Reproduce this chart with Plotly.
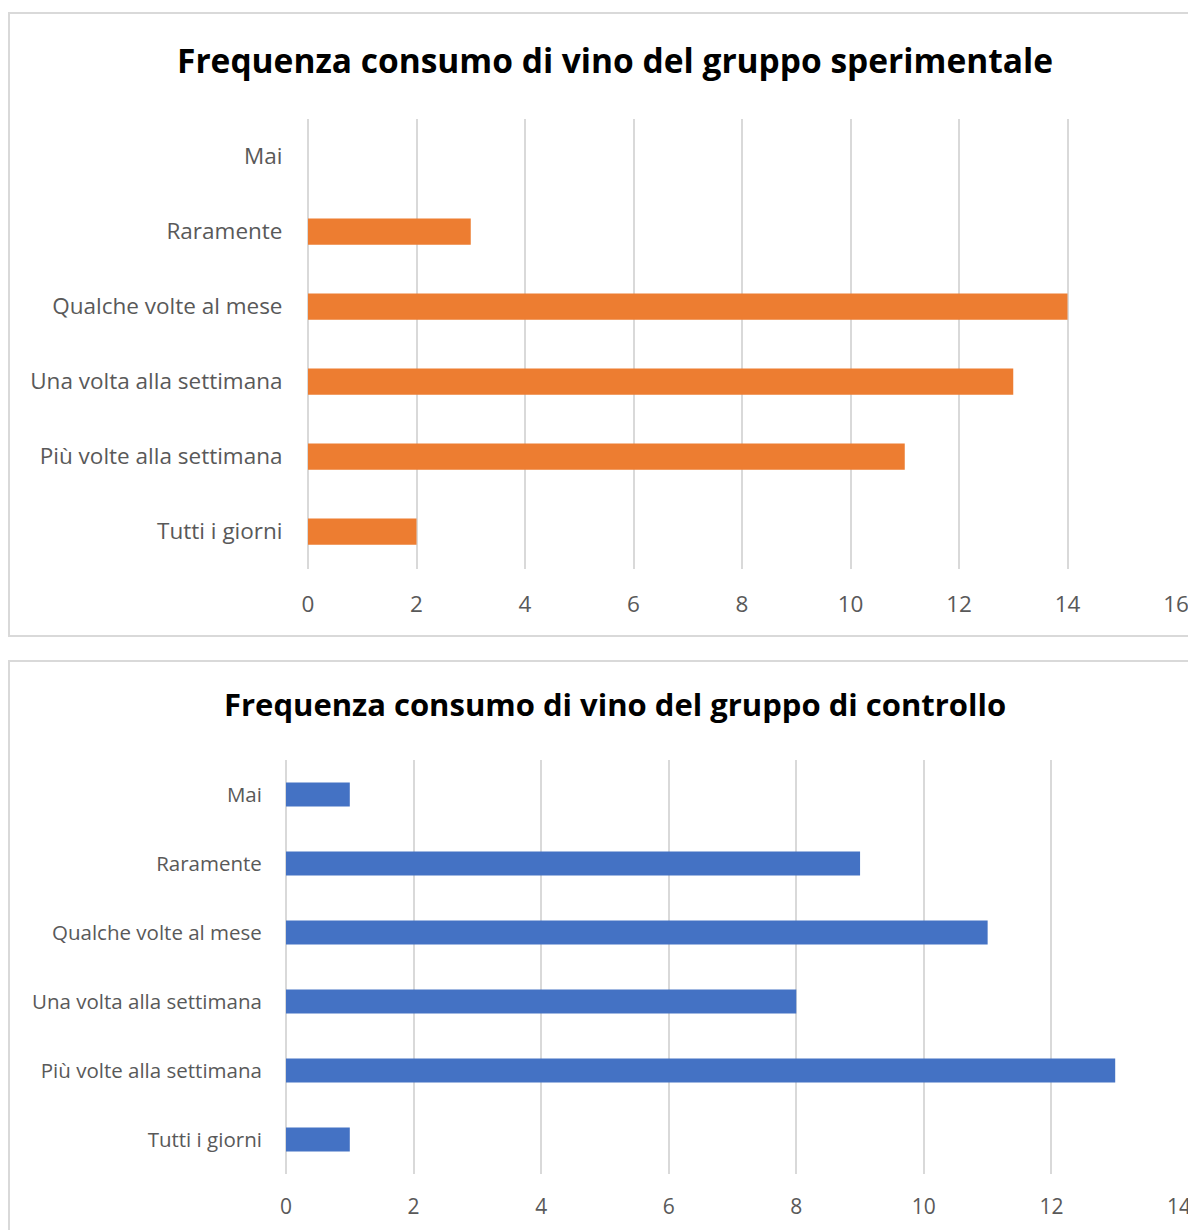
import plotly.graph_objects as go

# Frequency categories (top to bottom)
categories = ["Mai", "Raramente", "Qualche volte al mese",
              "Una volta alla settimana", "Più volte alla settimana", "Tutti i giorni"]

# Counts per group
sperimentale = [0, 3, 14, 13, 11, 2]
controllo = [1, 9, 11, 8, 13, 1]

title_top = "Frequenza consumo di vino del gruppo sperimentale"
title_bottom = "Frequenza consumo di vino del gruppo di controllo"

W, H = 1188, 1230
GRID = "#d9d9d9"
TEXT = "#595959"
FONT = "Open Sans, sans-serif"


def px_x(v):
    return v / W


def px_y(v):
    return 1 - v / H


fig = go.Figure()

fig.add_trace(go.Bar(
    x=sperimentale, y=categories, orientation="h",
    marker=dict(color="#ED7D31", line=dict(width=0)),
    xaxis="x", yaxis="y", showlegend=False, hoverinfo="x+y",
))
fig.add_trace(go.Bar(
    x=controllo, y=categories, orientation="h",
    marker=dict(color="#4472C4", line=dict(width=0)),
    xaxis="x2", yaxis="y2", showlegend=False, hoverinfo="x+y",
))

common_x = dict(showgrid=True, gridcolor=GRID, gridwidth=1.5,
                zeroline=True, zerolinecolor=GRID, zerolinewidth=1.5,
                showline=False, ticks="outside", tickcolor="rgba(0,0,0,0)",
                fixedrange=True, automargin=False, ticklabeloverflow="allow")
common_y = dict(type="category", autorange="reversed", showgrid=False,
                zeroline=False, showline=False, ticks="outside",
                tickcolor="rgba(0,0,0,0)", categoryorder="array",
                categoryarray=categories, fixedrange=True, automargin=False,
                ticklabeloverflow="allow")

fig.update_layout(
    width=W, height=H,
    margin=dict(l=0, r=0, t=0, b=0, autoexpand=False),
    paper_bgcolor="white", plot_bgcolor="white",
    bargap=0.65,
    font=dict(family=FONT, color=TEXT),
    xaxis=dict(domain=[px_x(308), px_x(1176)], range=[0, 16], dtick=2,
               anchor="y", ticklen=15, tickfont=dict(size=22.5, color=TEXT),
               **common_x),
    yaxis=dict(domain=[px_y(569), px_y(119)], anchor="x",
               ticklen=20, tickfont=dict(size=22.5, color=TEXT), **common_y),
    xaxis2=dict(domain=[px_x(286), px_x(1179)], range=[0, 14], dtick=2,
                anchor="y2", ticklen=14, tickfont=dict(size=21, color=TEXT),
                **common_x),
    yaxis2=dict(domain=[px_y(1174), px_y(760)], anchor="x2",
                ticklen=19, tickfont=dict(size=20.5, color=TEXT), **common_y),
    shapes=[
        dict(type="rect", xref="paper", yref="paper",
             x0=px_x(9), x1=px_x(1210), y0=px_y(636), y1=px_y(13),
             line=dict(color=GRID, width=2), fillcolor="rgba(0,0,0,0)",
             layer="below"),
        dict(type="rect", xref="paper", yref="paper",
             x0=px_x(9), x1=px_x(1210), y0=px_y(1260), y1=px_y(661),
             line=dict(color=GRID, width=2), fillcolor="rgba(0,0,0,0)",
             layer="below"),
    ],
    annotations=[
        dict(text=f"<b>{title_top}</b>", xref="paper", yref="paper",
             x=px_x(615), y=px_y(60), xanchor="center", yanchor="middle",
             showarrow=False, font=dict(size=33.5, color="black", family=FONT)),
        dict(text=f"<b>{title_bottom}</b>", xref="paper", yref="paper",
             x=px_x(615), y=px_y(704), xanchor="center", yanchor="middle",
             showarrow=False, font=dict(size=31, color="black", family=FONT)),
    ],
)

fig.write_html("out.html")
